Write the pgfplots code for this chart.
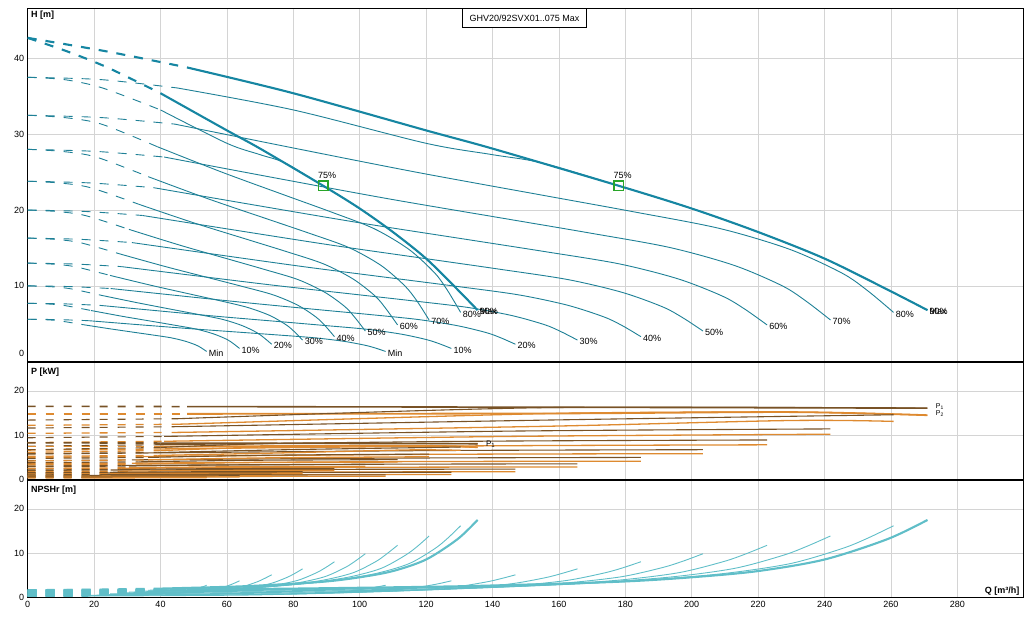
\documentclass[border=0pt]{standalone}
\usepackage{fontspec}
\setmainfont{Liberation Sans}
\usepackage{pgfplots}
\usepackage{pgfplotstable}
\pgfplotsset{compat=1.18}
\definecolor{hcol}{RGB}{30,128,150}
\definecolor{hmax}{RGB}{22,134,162}
\definecolor{pone}{RGB}{120,82,38}
\definecolor{ptwo}{RGB}{222,138,48}
\definecolor{ncol}{RGB}{96,190,200}
\definecolor{gridc}{RGB}{212,212,212}
\definecolor{mk}{RGB}{40,165,40}

% columns: Q2 = two pumps, Q1 = one pump, H = head, N = NPSHr
\pgfplotstableread{
Q2 Q1 H N
0 0 42.7 1.7
24 12 40.9 1.75
48 24 38.8 1.85
80 40 35.4 2.05
120 60 30.5 2.45
140 70 28.1 2.75
178 89 23.2 3.6
200 100 20.2 4.6
220 110 17.1 6.0
240 120 13.6 8.6
259 129.5 9.5 13.2
271 135.5 6.8 17.5
}\tMax
\pgfplotstableread{
Q2 Q1 H N
0 0 37.5 1.6
22 11 37.2 1.64
45 22.5 36.1 1.72
80 40 33.2 1.9
120 60 28.8 2.3
140 70 27.3 2.6
155 77.5 26.2 2.95
178 89 23.2 3.6
200 100 20.2 4.6
220 110 17.1 6.0
240 120 13.6 8.6
259 129.5 9.5 13.2
271 135.5 6.8 17.5
}\tNinety
\pgfplotstableread{
Q2 Q1 H N
0 0 32.5 1.45
22.2 11.1 32.19 1.52
44.3 22.2 31.33 1.63
78.2 39.1 28.34 1.89
117.4 58.7 24.96 2.31
156.5 78.2 21.84 2.84
182.6 91.3 19.76 3.81
208.6 104.3 17.55 5.36
229.5 114.8 14.82 7.65
245.2 122.6 11.7 11.04
253.0 126.5 9.36 13.4
260.8 130.4 6.5 16.2
}\tEighty
\pgfplotstableread{
Q2 Q1 H N
0 0 28 1.3
20.6 10.3 27.73 1.36
41.1 20.6 26.99 1.45
72.5 36.3 24.4 1.68
108.8 54.4 21.47 2.03
145.1 72.5 18.77 2.48
169.3 84.6 16.97 3.32
193.4 96.7 15.06 4.64
212.8 106.4 12.7 6.59
227.3 113.6 10.0 9.49
234.5 117.3 7.97 11.51
241.8 120.9 5.5 13.9
}\tSeventy
\pgfplotstableread{
Q2 Q1 H N
0 0 23.8 1.15
18.9 9.5 23.57 1.2
37.9 18.9 22.95 1.28
66.8 33.4 20.77 1.47
100.2 50.1 18.3 1.77
133.6 66.8 16.03 2.15
155.9 78.0 14.51 2.85
178.2 89.1 12.9 3.97
196.0 98.0 10.91 5.62
209.3 104.7 8.64 8.07
216.0 108.0 6.93 9.78
222.7 111.4 4.85 11.8
}\tSixty
\pgfplotstableread{
Q2 Q1 H N
0 0 20 1.0
17.3 8.6 19.81 1.04
34.6 17.3 19.28 1.11
61.0 30.5 17.45 1.27
91.5 45.8 15.37 1.52
122.0 61.0 13.46 1.84
142.4 71.2 12.18 2.42
162.7 81.4 10.83 3.36
179.0 89.5 9.15 4.74
191.2 95.6 7.24 6.79
197.3 98.6 5.8 8.21
203.4 101.7 4.05 9.9
}\tFifty
\pgfplotstableread{
Q2 Q1 H N
0 0 16.3 0.85
15.7 7.9 16.14 0.89
31.4 15.7 15.71 0.94
55.4 27.7 14.22 1.07
83.1 41.6 12.53 1.27
110.8 55.4 10.97 1.53
129.3 64.6 9.93 2.01
147.8 73.9 8.82 2.77
162.5 81.3 7.46 3.9
173.6 86.8 5.9 5.56
179.2 89.6 4.73 6.72
184.7 92.4 3.3 8.1
}\tForty
\pgfplotstableread{
Q2 Q1 H N
0 0 13 0.7
14.1 7.0 12.88 0.73
28.2 14.1 12.54 0.77
49.7 24.8 11.38 0.87
74.5 37.3 10.06 1.04
99.4 49.7 8.84 1.25
115.9 58.0 8.03 1.63
132.5 66.2 7.16 2.24
145.7 72.9 6.1 3.14
155.7 77.8 4.88 4.47
160.6 80.3 3.97 5.4
165.6 82.8 2.85 6.5
}\tThirty
\pgfplotstableread{
Q2 Q1 H N
0 0 10 0.55
12.5 6.2 9.91 0.57
25.0 12.5 9.65 0.61
44.1 22.0 8.77 0.69
66.1 33.1 7.77 0.82
88.1 44.1 6.84 0.98
102.8 51.4 6.23 1.29
117.5 58.8 5.57 1.77
129.3 64.6 4.76 2.48
138.1 69.0 3.84 3.54
142.5 71.2 3.15 4.28
146.9 73.5 2.3 5.15
}\tTwenty
\pgfplotstableread{
Q2 Q1 H N
0 0 7.7 0.45
10.8 5.4 7.63 0.47
21.7 10.8 7.43 0.49
38.3 19.1 6.75 0.55
57.4 28.7 5.97 0.64
76.6 38.3 5.26 0.76
89.3 44.7 4.78 0.99
102.1 51.0 4.28 1.34
112.3 56.1 3.65 1.86
119.9 60.0 2.94 2.63
123.8 61.9 2.4 3.16
127.6 63.8 1.75 3.8
}\tTen
\pgfplotstableread{
Q2 Q1 H N
0 0 5.6 0.35
9.2 4.6 5.55 0.36
18.3 9.2 5.41 0.38
32.3 16.2 4.92 0.42
48.5 24.3 4.37 0.49
64.7 32.3 3.86 0.58
75.5 37.7 3.52 0.74
86.2 43.1 3.16 1.0
94.9 47.4 2.71 1.38
101.3 50.7 2.2 1.94
104.6 52.3 1.82 2.33
107.8 53.9 1.35 2.8
}\tMin

\pgfplotsset{
  common/.style={scale only axis, width=996pt, xmin=0, xmax=300,
    xtick={0,20,...,280}, grid=major,
    major grid style={draw=gridc, line width=0.6pt},
    major tick length=0pt, tick style={draw=none},
    axis line style={line width=0.8pt, black},
    tick label style={font=\fontsize{9}{10}\selectfont},
    /pgf/number format/assume math mode=true},
  hs/.style={hcol,line width=0.9pt,smooth,tension=0.5},
  hd/.style={hcol,line width=0.9pt,smooth,tension=0.5,dash pattern=on 9pt off 9pt},
  hms/.style={hmax,line width=2.1pt,smooth,tension=0.5},
  hmd/.style={hmax,line width=2.1pt,smooth,tension=0.5,dash pattern=on 9pt off 9pt},
  ns/.style={ncol,line width=0.9pt,smooth,tension=0.5},
  nd/.style={ncol,line width=1.6pt,dash pattern=on 9pt off 9pt},
  nms/.style={ncol,line width=2.1pt,smooth,tension=0.5},
  nmd/.style={ncol,line width=2.1pt,dash pattern=on 9pt off 9pt},
  pA/.style={pone,line width=1.1pt,smooth},
  pB/.style={ptwo,line width=1.3pt,smooth},
  pAm/.style={pone,line width=1.6pt,smooth},
  pBm/.style={ptwo,line width=1.8pt,smooth},
}
% table, column, solid style, dashed style
\newcommand\Curves[4]{%
  \addplot[#4,skip coords between index={3}{40}] table[x=Q2,y=#2]{#1};
  \addplot[#3,skip coords between index={0}{2}] table[x=Q2,y=#2]{#1};
  \addplot[#4,skip coords between index={4}{40}] table[x=Q1,y=#2]{#1};
  \addplot[#3,skip coords between index={0}{3}] table[x=Q1,y=#2]{#1};
}
\newcommand\PP[3]{%
  \addplot[#1,dash pattern=on 8pt off 10pt] coordinates {#2};
  \addplot[#1] coordinates {#3};
}
\newcommand\lab[3]{\node[anchor=west,inner sep=0pt,font=\fontsize{9}{10}\selectfont,xshift=2pt,yshift=-1.5pt] at (axis cs:#1,#2) {#3};}

\begin{document}
\begin{tikzpicture}
\useasboundingbox (0pt,0pt) rectangle (1033pt,-627pt);

% ---------------- H panel ----------------
\begin{axis}[common, at={(27.7pt,-361.7pt)}, anchor=south west,
  height=353.4pt, ymin=0, ymax=46.6, ytick={10,20,30,40}, xticklabels={},
  extra y ticks={0}, extra y tick style={yticklabel style={yshift=8pt}}]
\Curves{\tMin}{H}{hs}{hd}
\Curves{\tTen}{H}{hs}{hd}
\Curves{\tTwenty}{H}{hs}{hd}
\Curves{\tThirty}{H}{hs}{hd}
\Curves{\tForty}{H}{hs}{hd}
\Curves{\tFifty}{H}{hs}{hd}
\Curves{\tSixty}{H}{hs}{hd}
\Curves{\tSeventy}{H}{hs}{hd}
\Curves{\tEighty}{H}{hs}{hd}
\Curves{\tNinety}{H}{hs}{hd}
\Curves{\tMax}{H}{hms}{hmd}
\addplot[only marks, mark=square, mark size=4.8pt, mark options={draw=mk, line width=1.3pt}] coordinates {(89,23.2) (178,23.2)};
\node[anchor=south,inner sep=0pt,font=\fontsize{9}{10}\selectfont] at ([xshift=4pt,yshift=7pt]axis cs:89,23.2) {75\%};
\node[anchor=south,inner sep=0pt,font=\fontsize{9}{10}\selectfont] at ([xshift=4pt,yshift=7pt]axis cs:178,23.2) {75\%};
\lab{107.8}{1.35}{Min}
\lab{127.6}{1.75}{10\%}
\lab{146.9}{2.3}{20\%}
\lab{165.6}{2.85}{30\%}
\lab{184.7}{3.3}{40\%}
\lab{203.4}{4.05}{50\%}
\lab{222.7}{4.85}{60\%}
\lab{241.8}{5.5}{70\%}
\lab{260.8}{6.5}{80\%}
\lab{271}{6.8}{90\%}
\lab{271}{6.8}{Max}
\lab{53.9}{1.35}{Min}
\lab{63.8}{1.75}{10\%}
\lab{73.5}{2.3}{20\%}
\lab{82.8}{2.85}{30\%}
\lab{92.4}{3.3}{40\%}
\lab{101.7}{4.05}{50\%}
\lab{111.4}{4.85}{60\%}
\lab{120.9}{5.5}{70\%}
\lab{130.4}{6.5}{80\%}
\lab{135.5}{6.8}{90\%}
\lab{135.5}{6.8}{Max}
\end{axis}

% ---------------- P panel ----------------
\begin{axis}[common, at={(27.7pt,-479.3pt)}, anchor=south west,
  height=117.6pt, ymin=0, ymax=26.6, ytick={0,10,20}, xticklabels={}]
% two pumps
\PP{pAm}{(0,16.5)(48,16.45)}{(48,16.45)(160,16.3)(271,16.1)}
\PP{pBm}{(0,14.8)(48,14.8)}{(48,14.8)(160,14.9)(230,15.2)(271,14.5)}
\PP{pA}{(0,13.4)(45,13.7)}{(45,13.7)(155,16.2)(271,16.1)}
\PP{pB}{(0,12.2)(45,12.45)}{(45,12.45)(155,14.85)(230,15.2)(271,14.5)}
\PP{pA}{(0,11.6)(44.3,11.9)}{(44.3,11.9)(156.5,13.4)(260.8,14.6)}
\PP{pB}{(0,10.4)(44.3,10.6)}{(44.3,10.6)(156.5,12.0)(229.5,13.3)(260.8,13.1)}
\PP{pA}{(0,9.4)(41.1,9.7)}{(41.1,9.7)(145.1,10.9)(241.8,11.4)}
\PP{pB}{(0,8.3)(41.1,8.6)}{(41.1,8.6)(145.1,9.7)(241.8,10.2)}
\PP{pA}{(0,7.5)(37.9,7.8)}{(37.9,7.8)(133.6,8.6)(222.7,8.9)}
\PP{pB}{(0,6.6)(37.9,6.85)}{(37.9,6.85)(133.6,7.55)(222.7,7.8)}
\PP{pA}{(0,5.7)(34.6,5.95)}{(34.6,5.95)(122,6.5)(203.4,6.7)}
\PP{pB}{(0,4.95)(34.6,5.15)}{(34.6,5.15)(122,5.65)(203.4,5.8)}
\PP{pA}{(0,4.2)(31.4,4.4)}{(31.4,4.4)(110.8,4.8)(184.7,4.95)}
\PP{pB}{(0,3.5)(31.4,3.65)}{(31.4,3.65)(110.8,4.0)(184.7,4.1)}
\PP{pA}{(0,3.0)(28.2,3.15)}{(28.2,3.15)(99.4,3.4)(165.6,3.5)}
\PP{pB}{(0,2.4)(28.2,2.5)}{(28.2,2.5)(99.4,2.72)(165.6,2.8)}
\PP{pA}{(0,2.0)(25,2.1)}{(25,2.1)(88.1,2.25)(146.9,2.3)}
\PP{pB}{(0,1.45)(25,1.52)}{(25,1.52)(88.1,1.65)(146.9,1.7)}
\PP{pA}{(0,1.35)(21.7,1.42)}{(21.7,1.42)(76.6,1.55)(127.6,1.6)}
\PP{pB}{(0,0.95)(21.7,1.0)}{(21.7,1.0)(76.6,1.07)(127.6,1.1)}
\PP{pA}{(0,0.85)(18.3,0.9)}{(18.3,0.9)(64.7,0.97)(107.8,1.0)}
\PP{pB}{(0,0.55)(18.3,0.6)}{(18.3,0.6)(64.7,0.66)(107.8,0.7)}
% one pump
\PP{pAm}{(0,8.25)(40,8.2)}{(40,8.2)(135.5,8.05)}
\PP{pBm}{(0,7.4)(40,7.4)}{(40,7.4)(115,7.6)(135.5,7.25)}
\PP{pA}{(0,6.7)(40,7.2)}{(40,7.2)(77.5,8.15)(135.5,8.05)}
\PP{pB}{(0,6.1)(40,6.5)}{(40,6.5)(77.5,7.45)(115,7.6)(135.5,7.25)}
\PP{pA}{(0,5.8)(39.1,6.05)}{(39.1,6.05)(78.2,6.7)(130.4,7.3)}
\PP{pB}{(0,5.2)(39.1,5.4)}{(39.1,5.4)(78.2,6.0)(114.8,6.65)(130.4,6.55)}
\PP{pA}{(0,4.7)(36.3,4.95)}{(36.3,4.95)(72.5,5.45)(120.9,5.7)}
\PP{pB}{(0,4.15)(36.3,4.4)}{(36.3,4.4)(72.5,4.85)(120.9,5.1)}
\PP{pA}{(0,3.75)(33.4,3.95)}{(33.4,3.95)(66.8,4.3)(111.4,4.45)}
\PP{pB}{(0,3.3)(33.4,3.45)}{(33.4,3.45)(66.8,3.78)(111.4,3.9)}
\PP{pA}{(0,2.85)(30.5,3.0)}{(30.5,3.0)(61,3.25)(101.7,3.35)}
\PP{pB}{(0,2.48)(30.5,2.6)}{(30.5,2.6)(61,2.83)(101.7,2.9)}
\PP{pA}{(0,2.1)(27.7,2.22)}{(27.7,2.22)(55.4,2.4)(92.4,2.48)}
\PP{pB}{(0,1.75)(27.7,1.84)}{(27.7,1.84)(55.4,2.0)(92.4,2.05)}
\PP{pA}{(0,1.5)(24.8,1.58)}{(24.8,1.58)(49.7,1.7)(82.8,1.75)}
\PP{pB}{(0,1.2)(24.8,1.26)}{(24.8,1.26)(49.7,1.36)(82.8,1.4)}
\PP{pA}{(0,1.0)(22,1.06)}{(22,1.06)(44.1,1.12)(73.5,1.15)}
\PP{pB}{(0,0.72)(22,0.77)}{(22,0.77)(44.1,0.83)(73.5,0.85)}
\PP{pA}{(0,0.68)(19.1,0.72)}{(19.1,0.72)(38.3,0.77)(63.8,0.8)}
\PP{pB}{(0,0.48)(19.1,0.5)}{(19.1,0.5)(38.3,0.53)(63.8,0.55)}
\PP{pA}{(0,0.43)(16.2,0.46)}{(16.2,0.46)(32.3,0.48)(53.9,0.5)}
\PP{pB}{(0,0.28)(16.2,0.3)}{(16.2,0.3)(32.3,0.33)(53.9,0.35)}
\node[anchor=west,inner sep=0pt,font=\fontsize{8}{9}\selectfont] at (axis cs:138,7.9) {P\textsubscript{1}};
\node[anchor=west,inner sep=0pt,font=\fontsize{7}{8}\selectfont] at (axis cs:273.5,16.5) {P\textsubscript{1}};
\node[anchor=west,inner sep=0pt,font=\fontsize{7}{8}\selectfont] at (axis cs:273.5,14.9) {P\textsubscript{2}};
\end{axis}

% ---------------- NPSH panel ----------------
\begin{axis}[common, at={(27.7pt,-597.7pt)}, anchor=south west,
  height=117.7pt, ymin=0, ymax=26.5, ytick={0,10,20},
  axis line style={line width=1.1pt, black}]
\Curves{\tMin}{N}{ns}{nd}
\Curves{\tTen}{N}{ns}{nd}
\Curves{\tTwenty}{N}{ns}{nd}
\Curves{\tThirty}{N}{ns}{nd}
\Curves{\tForty}{N}{ns}{nd}
\Curves{\tFifty}{N}{ns}{nd}
\Curves{\tSixty}{N}{ns}{nd}
\Curves{\tSeventy}{N}{ns}{nd}
\Curves{\tEighty}{N}{ns}{nd}
\Curves{\tNinety}{N}{ns}{nd}
\Curves{\tMax}{N}{nms}{nmd}
\end{axis}

% panel separators
\draw[line width=1.8pt] (27.7pt,-361.7pt) -- (1023.7pt,-361.7pt);
\draw[line width=1.8pt] (27.7pt,-479.5pt) -- (1023.7pt,-479.5pt);

% titles and axis names
\node[draw=black, line width=0.6pt, fill=white, minimum width=124pt, minimum height=19pt, inner sep=0pt, font=\fontsize{9}{10}\selectfont] at (524.5pt,-17.8pt) {GHV20/92SVX01..075 Max};
\node[anchor=west, inner sep=0pt, font=\bfseries\fontsize{9}{10}\selectfont] at (31pt,-15.5pt) {H [m]};
\node[anchor=west, inner sep=0pt, font=\bfseries\fontsize{9}{10}\selectfont] at (31pt,-371.8pt) {P [kW]};
\node[anchor=west, inner sep=0pt, font=\bfseries\fontsize{9}{10}\selectfont] at (31pt,-490.3pt) {NPSHr [m]};
\node[anchor=east, inner sep=0pt, font=\bfseries\fontsize{9}{10}\selectfont] at (1019.5pt,-591.2pt) {Q [m³/h]};
\end{tikzpicture}
\end{document}
